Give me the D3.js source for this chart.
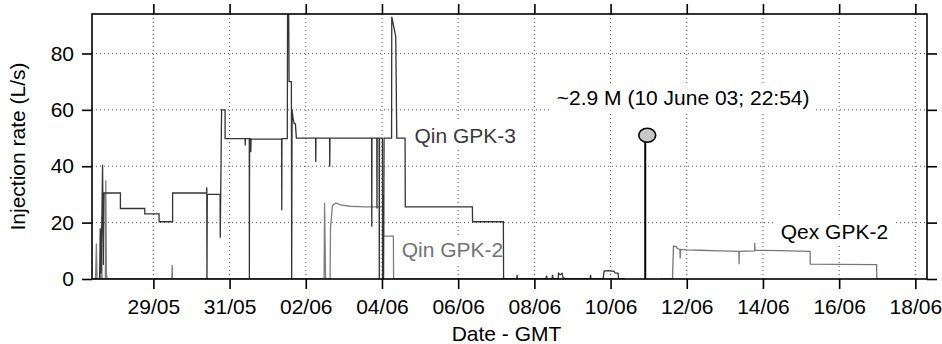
<!DOCTYPE html>
<html>
<head>
<meta charset="utf-8">
<script src="https://cdn.jsdelivr.net/npm/d3@7"></script>
<style>
  body { margin: 0; background: #fff; }
  svg text { font-family: "Liberation Sans", Arial, Helvetica, sans-serif; }
</style>
</head>
<body>
<div id="chart"></div>
<script>
// injection / extraction rates (GMT, 2003, L/s)
const qinGpk3 = [
  ["05-27 09:23", 0], ["05-27 14:07", 0], ["05-27 14:33", 18], ["05-27 15:03", 2],
  ["05-27 16:00", 40.5], ["05-27 16:27", 5], ["05-27 16:57", 30.5], ["05-28 03:13", 30.5],
  ["05-28 03:14", 25.0], ["05-28 18:35", 25.0], ["05-28 18:36", 23.1], ["05-29 03:35", 23.1],
  ["05-29 03:36", 20.3], ["05-29 12:06", 20.3], ["05-29 12:07", 30.5], ["05-30 09:31", 30.5],
  ["05-30 09:38", 32.5], ["05-30 09:46", 0], ["05-30 09:58", 30], ["05-30 18:01", 30],
  ["05-30 18:08", 14.6], ["05-30 18:58", 60], ["05-30 21:10", 60], ["05-30 21:11", 49.8],
  ["05-31 09:46", 49.8], ["05-31 09:53", 47.4], ["05-31 10:01", 49.8], ["05-31 12:25", 49.8],
  ["05-31 12:28", 0], ["05-31 12:36", 49.8], ["05-31 13:14", 49.8], ["05-31 13:21", 45],
  ["05-31 13:33", 49.6], ["06-01 08:45", 49.6], ["06-01 08:53", 24.4], ["06-01 09:00", 49.8],
  ["06-01 12:21", 49.8], ["06-01 12:32", 95], ["06-01 13:14", 95], ["06-01 13:29", 70],
  ["06-01 14:56", 70], ["06-01 15:07", 0], ["06-01 15:22", 60], ["06-01 16:00", 57],
  ["06-01 16:38", 55.2], ["06-01 17:27", 55], ["06-01 18:05", 50], ["06-02 06:10", 50],
  ["06-02 06:18", 41.5], ["06-02 06:26", 50], ["06-02 14:59", 50], ["06-02 15:07", 39.8],
  ["06-02 15:15", 50], ["06-03 17:27", 50], ["06-03 17:35", 18.5], ["06-03 17:42", 50],
  ["06-03 20:44", 50], ["06-03 20:51", 25], ["06-03 20:59", 50], ["06-03 22:11", 50],
  ["06-03 22:18", 0], ["06-03 22:26", 50], ["06-04 00:15", 50], ["06-04 00:23", 0],
  ["06-04 00:42", 30], ["06-04 01:00", 0], ["06-04 01:19", 50], ["06-04 06:03", 50],
  ["06-04 06:10", 93], ["06-04 08:41", 86], ["06-04 09:19", 50], ["06-04 14:33", 50],
  ["06-04 14:41", 25.6], ["06-06 08:57", 25.6], ["06-06 09:04", 20.3], ["06-07 04:28", 20.3],
  ["06-07 04:36", 0], ["06-07 12:55", 0], ["06-07 13:06", 1.5], ["06-07 13:17", 0],
  ["06-08 07:22", 0], ["06-08 07:41", 1.2], ["06-08 08:00", 0], ["06-08 11:09", 0],
  ["06-08 11:28", 1.5], ["06-08 11:47", 0], ["06-08 14:56", 0], ["06-08 15:15", 2],
  ["06-08 16:11", 1.5], ["06-08 17:27", 2], ["06-08 18:05", 0.5], ["06-08 19:58", 0],
  ["06-09 11:05", 0], ["06-09 11:24", 1.5], ["06-09 11:43", 0], ["06-09 19:17", 0],
  ["06-09 19:55", 2.8], ["06-09 22:26", 3], ["06-10 02:13", 2.7], ["06-10 02:50", 2.2],
  ["06-10 04:44", 2], ["06-10 05:02", 0], ["06-10 09:08", 0]
];

const qinGpk2 = [
  ["05-27 09:23", 0], ["05-27 11:35", 0], ["05-27 12:06", 12.6], ["05-27 12:32", 0],
  ["05-27 14:44", 0], ["05-27 15:11", 17], ["05-27 15:41", 0], ["05-27 17:46", 0],
  ["05-27 18:01", 35], ["05-27 18:24", 2], ["05-27 18:50", 0], ["05-29 11:39", 0],
  ["05-29 11:51", 5], ["05-29 12:02", 0], ["06-02 11:32", 0], ["06-02 11:51", 27],
  ["06-02 12:28", 0], ["06-02 15:19", 0], ["06-02 15:34", 18], ["06-02 16:46", 26],
  ["06-02 19:00", 27], ["06-02 21:48", 26.3], ["06-03 03:54", 25.8], ["06-03 13:21", 25.6],
  ["06-04 00:53", 25.6], ["06-04 01:00", 15.2], ["06-04 07:11", 15.2], ["06-04 07:19", 0],
  ["06-10 09:08", 0]
];

const qexGpk2 = [
  ["06-11 07:11", 0], ["06-11 15:00", 0], ["06-11 15:38", 11.7], ["06-11 17:20", 11.5],
  ["06-11 17:58", 10.8], ["06-11 19:43", 10.5], ["06-11 19:51", 7.3], ["06-11 20:02", 10.5],
  ["06-12 00:00", 10.3], ["06-12 08:23", 10.2], ["06-12 20:59", 10.0], ["06-13 08:49", 9.8],
  ["06-13 08:57", 5.2], ["06-13 09:04", 9.8], ["06-13 18:43", 10], ["06-13 18:50", 12.8],
  ["06-13 18:58", 10.2], ["06-14 10:46", 10.1], ["06-15 05:40", 9.8], ["06-15 05:48", 5.3],
  ["06-16 00:34", 5.2], ["06-16 23:34", 5.1], ["06-16 23:45", 0], ["06-18 00:00", 0]
];

// largest event
const eventTime = "06-10 21:50";
const eventRate = 51;
const eventLabel = "~2.9 M (10 June 03; 22:54)";

const xDomain = ["05-27 09:20", "06-18 07:20"];
const xTicks = ["05-29", "05-31", "06-02", "06-04", "06-06", "06-08", "06-10",
                "06-12", "06-14", "06-16", "06-18"];
const yDomain = [0, 94];
const yTicks = [0, 20, 40, 60, 80];

const seriesLabels = [
  { text: "Qin GPK-3", time: "06-04 20:25", rate: 48.4, color: "#3a3a3a" },
  { text: "Qin GPK-2", time: "06-04 12:28", rate: 7.9, color: "#737373" },
  { text: "Qex GPK-2", time: "06-14 11:13", rate: 14.1, color: "#000" },
  { text: eventLabel, time: "06-08 14:07", rate: 61.7, color: "#000" }
];

const parse = d3.utcParse("%Y-%m-%d %H:%M");
const t = s => parse("2003-" + (s.length === 5 ? s + " 00:00" : s));

const W = 942, H = 344;
const margin = { top: 14, right: 15, bottom: 65, left: 92 };
const width = W - margin.left - margin.right;
const height = H - margin.top - margin.bottom;
const fontSize = 21;

const svg = d3.select("#chart").append("svg")
  .attr("width", W).attr("height", H);
const g = svg.append("g")
  .attr("transform", `translate(${margin.left},${margin.top})`);

const x = d3.scaleUtc().domain(xDomain.map(t)).range([0, width]);
const y = d3.scaleLinear().domain(yDomain).range([height, 0]);

svg.append("defs").append("clipPath").attr("id", "plot")
  .append("rect").attr("width", width).attr("height", height);

// dotted grid
const grid = g.append("g").attr("stroke", "#555").attr("stroke-width", 1)
  .attr("stroke-dasharray", "1,3");
grid.selectAll(".gx").data(xTicks.map(t)).enter().append("line")
  .attr("x1", d => x(d)).attr("x2", d => x(d))
  .attr("y1", 0).attr("y2", height);
grid.selectAll(".gy").data(yTicks.filter(v => v > 0)).enter().append("line")
  .attr("x1", 0).attr("x2", width)
  .attr("y1", d => y(d)).attr("y2", d => y(d));

// label boxes sit above the grid
const boxLayer = g.append("g");

const line = d3.line().x(d => x(t(d[0]))).y(d => y(d[1]));
const plot = g.append("g").attr("clip-path", "url(#plot)").attr("fill", "none");
plot.append("path").datum(qinGpk2).attr("d", line)
  .attr("stroke", "#7e7e7e").attr("stroke-width", 1.3);
plot.append("path").datum(qexGpk2).attr("d", line)
  .attr("stroke", "#777").attr("stroke-width", 1.3);
plot.append("path").datum(qinGpk3).attr("d", line)
  .attr("stroke", "#353535").attr("stroke-width", 1.3);

// event stem
const ex = x(t(eventTime));
g.append("line").attr("x1", ex).attr("x2", ex)
  .attr("y1", y(0)).attr("y2", y(eventRate) + 7)
  .attr("stroke", "#000").attr("stroke-width", 2);
g.append("ellipse").attr("cx", ex + 2).attr("cy", y(eventRate))
  .attr("rx", 8.5).attr("ry", 7)
  .attr("fill", "#c8c8c8").attr("stroke", "#000").attr("stroke-width", 1.6);

// series labels with white backing
seriesLabels.forEach(l => {
  const txt = g.append("text")
    .attr("x", x(t(l.time))).attr("y", y(l.rate))
    .attr("font-size", fontSize).attr("fill", l.color).text(l.text);
  const b = txt.node().getBBox();
  boxLayer.append("rect")
    .attr("x", b.x - 6).attr("y", b.y - 2)
    .attr("width", b.width + 12).attr("height", b.height + 4)
    .attr("fill", "#fff");
});

// axes
const fmt = d3.utcFormat("%d/%m");
const xb = g.append("g").attr("transform", `translate(0,${height})`)
  .call(d3.axisBottom(x).tickValues(xTicks.map(t)).tickFormat(fmt)
    .tickSize(10).tickPadding(10));
const xt = g.append("g")
  .call(d3.axisTop(x).tickValues(xTicks.map(t)).tickFormat("").tickSize(10));
const yl = g.append("g")
  .call(d3.axisLeft(y).tickValues(yTicks).tickSize(10).tickPadding(8));
const yr = g.append("g").attr("transform", `translate(${width},0)`)
  .call(d3.axisRight(y).tickValues(yTicks).tickFormat("").tickSize(10));

[xb, xt, yl, yr].forEach(a => {
  a.select(".domain").remove();
  a.selectAll(".tick line").attr("stroke", "#000").attr("stroke-width", 1.6);
  a.selectAll("text").attr("font-size", fontSize).attr("fill", "#000")
    .attr("font-family", null);
});

g.append("rect").attr("width", width).attr("height", height)
  .attr("fill", "none").attr("stroke", "#000").attr("stroke-width", 1.6);

// axis titles
svg.append("text").attr("x", margin.left + width / 2 - 3).attr("y", 341)
  .attr("text-anchor", "middle").attr("font-size", fontSize)
  .text("Date - GMT");
svg.append("text")
  .attr("transform", `translate(25,${margin.top + height / 2}) rotate(-90)`)
  .attr("text-anchor", "middle").attr("font-size", fontSize)
  .text("Injection rate (L/s)");
</script>
</body>
</html>
